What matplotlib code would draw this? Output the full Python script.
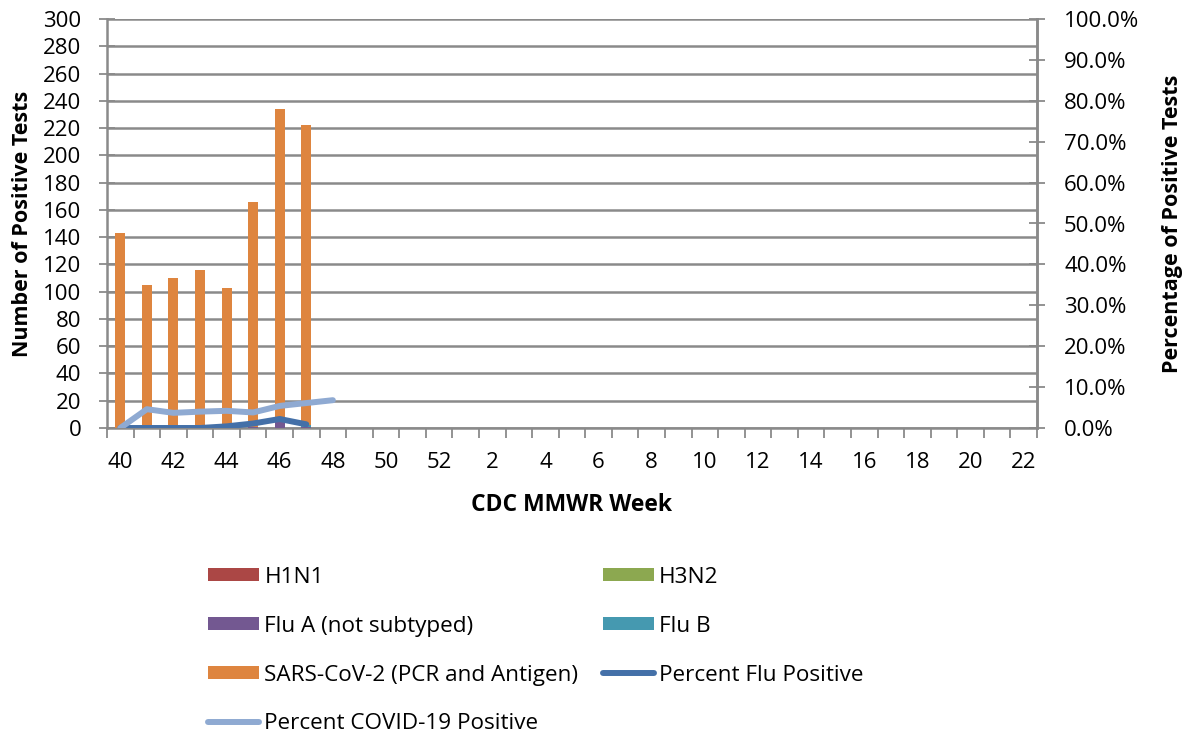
import matplotlib
matplotlib.use('Agg')
import matplotlib.pyplot as plt
import numpy as np
from matplotlib.ticker import PercentFormatter, FixedLocator

plt.rcParams['font.family'] = ['Open Sans', 'DejaVu Sans']

# CDC MMWR weeks 40-52 then 1-22
weeks = [str(w) for w in range(40, 53)] + [str(w) for w in range(1, 23)]

# Counts of positive tests (only weeks 40-47 reported so far)
h1n1 = [0, 0, 0, 0, 0, 0, 0, 0]
h3n2 = [0, 0, 0, 0, 0, 0, 0, 0]
flu_a = [0, 0, 0, 0, 1, 1, 5, 1]
flu_b = [0, 0, 0, 0, 0, 0, 3, 1]
sars_cov2 = [143, 105, 110, 116, 102, 165, 226, 220]

# Percent positive (fraction)
pct_flu = [0.0, 0.0, 0.0, 0.0, 0.004, 0.011, 0.022, 0.009]
pct_covid = [0.0, 0.046, 0.037, 0.040, 0.042, 0.038, 0.054, 0.061, 0.068]

colors = {
    'H1N1': '#AB4745',
    'H3N2': '#8CA850',
    'Flu A (not subtyped)': '#735891',
    'Flu B': '#4599B0',
    'SARS-CoV-2 (PCR and Antigen)': '#DE853F',
}
flu_line_color = '#4470A8'
covid_line_color = '#8FAAD2'
grid_color = '#8A8A8A'
tick_fs = 16

fig = plt.figure(figsize=(11.85, 7.34), dpi=100)
ax = fig.add_axes([107 / 1185, 1 - 428 / 734, (1037 - 107) / 1185, (428 - 19) / 734])

x = np.arange(len(weeks))
bar_w = 0.38
series = [
    ('H1N1', h1n1),
    ('H3N2', h3n2),
    ('Flu A (not subtyped)', flu_a),
    ('Flu B', flu_b),
    ('SARS-CoV-2 (PCR and Antigen)', sars_cov2),
]
bottom = np.zeros(len(sars_cov2))
handles = {}
for name, vals in series:
    vals = np.array(vals, dtype=float)
    b = ax.bar(x[:len(vals)], vals, bar_w, bottom=bottom, color=colors[name],
               label=name, zorder=3)
    handles[name] = b
    bottom += vals

ax.set_xlim(-0.5, len(weeks) - 0.5)
ax.set_ylim(0, 300)
ax.set_yticks(np.arange(0, 301, 20))
ax.yaxis.grid(True, color=grid_color, linewidth=1.8, zorder=0)
ax.set_axisbelow(True)

# labels on every other week, tick marks between categories
ax.set_xticks(x[::2])
ax.set_xticklabels(weeks[::2])
ax.xaxis.set_minor_locator(FixedLocator(np.arange(-0.5, len(weeks), 1)))
ax.tick_params(axis='x', which='major', length=0, pad=17, labelsize=tick_fs)
ax.tick_params(axis='x', which='minor', length=7, color=grid_color, width=1.3, direction='out')
ax.tick_params(axis='y', length=11, direction='inout', color=grid_color, width=1.3,
               labelsize=tick_fs, pad=13)

ax.spines['top'].set_visible(False)
for side in ['left', 'right', 'bottom']:
    ax.spines[side].set_color(grid_color)
    ax.spines[side].set_linewidth(1.8)

ax.set_xlabel('CDC MMWR Week', fontsize=16.5, fontweight='bold', labelpad=15)
ax.set_ylabel('Number of Positive Tests', fontsize=15.5, fontweight='bold', labelpad=7)

ax2 = ax.twinx()
ax2.set_ylim(0, 1)
ax2.set_yticks(np.arange(0, 1.01, 0.1))
ax2.yaxis.set_major_formatter(PercentFormatter(1, decimals=1))
ax2.tick_params(axis='y', length=11, direction='inout', color=grid_color, width=1.3,
                labelsize=tick_fs, pad=14)
for side in ['top', 'left', 'bottom']:
    ax2.spines[side].set_visible(False)
ax2.spines['right'].set_color(grid_color)
ax2.spines['right'].set_linewidth(1.8)
ax2.set_ylabel('Percentage of Positive Tests', fontsize=15.5, fontweight='bold', labelpad=16)

l_flu, = ax2.plot(x[:len(pct_flu)], pct_flu, color=flu_line_color, linewidth=4.3,
                  solid_capstyle='round', label='Percent Flu Positive')
l_cov, = ax2.plot(x[:len(pct_covid)], pct_covid, color=covid_line_color, linewidth=4.3,
                  solid_capstyle='round', label='Percent COVID-19 Positive')

# legend filled column-major, so order to match the two-column row layout
order_h = [handles['H1N1'], handles['Flu A (not subtyped)'],
           handles['SARS-CoV-2 (PCR and Antigen)'], l_cov,
           handles['H3N2'], handles['Flu B'], l_flu]
order_l = ['H1N1', 'Flu A (not subtyped)', 'SARS-CoV-2 (PCR and Antigen)',
           'Percent COVID-19 Positive', 'H3N2', 'Flu B', 'Percent Flu Positive']
fig.legend(order_h, order_l, loc='upper left', bbox_to_anchor=(201 / 1185, 1 - 560 / 734),
           ncol=2, frameon=False, fontsize=16.2, handlelength=2.3, handleheight=0.48,
           handletextpad=0.22, labelspacing=1.24, columnspacing=1.07, borderaxespad=0,
           borderpad=0.3)

fig.savefig('out.png', dpi=100)
